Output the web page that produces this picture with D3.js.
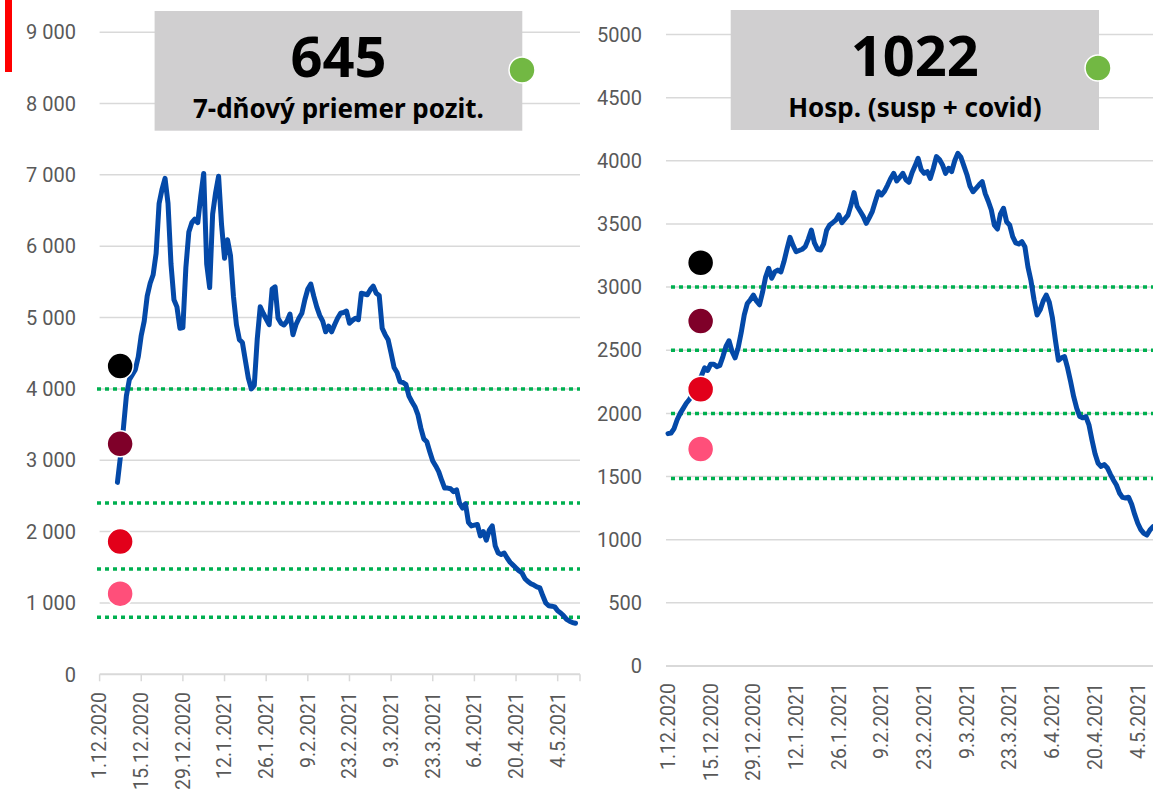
<!DOCTYPE html>
<html>
<head>
<meta charset="utf-8">
<script src="https://cdn.jsdelivr.net/npm/d3@7"></script>
<style>
  body { margin: 0; background: #fff; }
  svg { display: block; font-family: Roboto, "Noto Sans", sans-serif; }
</style>
</head>
<body>
<svg id="chart" width="1153" height="789"></svg>
<script>
// x axis: days counted from 1.12.2020, a label every 14 days
var tickDays = [0, 14, 28, 42, 56, 70, 84, 98, 112, 126, 140, 154];
var tickLabels = ["1.12.2020", "15.12.2020", "29.12.2020", "12.1.2021", "26.1.2021", "9.2.2021",
  "23.2.2021", "9.3.2021", "23.3.2021", "6.4.2021", "20.4.2021", "4.5.2021"];

// left: 7-day average of positive tests, starts on day 6 (7.12.2020)
var posStartDay = 6;
var posAvg = [
  2690, 3050, 3450, 3900, 4130, 4200, 4270, 4450, 4750, 4950,
  5300, 5480, 5600, 5900, 6600, 6800, 6950, 6600, 5750, 5250,
  5150, 4850, 4860, 5700, 6200, 6330, 6380, 6330, 6700, 7020,
  5750, 5420, 6450, 6750, 6980, 6300, 5830, 6090, 5870, 5300,
  4900, 4690, 4650, 4400, 4150, 4000, 4050, 4700, 5150, 5060,
  4980, 4900, 5400, 5430, 4990, 4920, 4896, 4950, 5050, 4760,
  4900, 4990, 5060, 5250, 5400, 5470, 5300, 5150, 5030, 4950,
  4800, 4880, 4800, 4900, 4990, 5060, 5070, 5090, 4920, 4960,
  4990, 4970, 5340, 5330, 5320, 5390, 5440, 5340, 5310, 4850,
  4760, 4690, 4500, 4300, 4230, 4100, 4090, 4060, 3900, 3820,
  3750, 3640, 3450, 3300, 3260, 3120, 2990, 2920, 2840, 2720,
  2610, 2610, 2600, 2560, 2585, 2400, 2330, 2390, 2130, 2080,
  2090, 2100, 1940, 2000, 1880, 2020, 2080, 1800, 1700, 1680,
  1700, 1630, 1570, 1530, 1490, 1450, 1420, 1340, 1300, 1270,
  1250, 1225, 1210, 1100, 1000, 960, 955, 945, 890, 860,
  820, 770, 745, 725, 715
];
var posThresholds = [4000, 2400, 1475, 800];
var posDots = [4320, 3230, 1860, 1130];
var posTicks = [0, 1000, 2000, 3000, 4000, 5000, 6000, 7000, 8000, 9000];

// right: hospitalised (suspected + covid), starts on day 0
var hospStartDay = 0;
var hosp = [
  1840, 1845, 1880, 1950, 2000, 2040, 2080, 2110, 2150, 2200,
  2250, 2300, 2360, 2340, 2390, 2390, 2370, 2380, 2450, 2530,
  2575, 2490, 2440, 2520, 2640, 2780, 2870, 2900, 2937, 2890,
  2860, 2960, 3080, 3149, 3070, 3120, 3135, 3120, 3200, 3300,
  3394, 3330, 3280, 3290, 3300, 3320, 3380, 3452, 3350, 3300,
  3294, 3340, 3450, 3492, 3510, 3530, 3571, 3510, 3540, 3570,
  3650, 3748, 3640, 3600, 3560, 3505, 3550, 3600, 3680, 3755,
  3730, 3760, 3808, 3860, 3901, 3840, 3870, 3901, 3850, 3830,
  3906, 3960, 4020, 3930, 3901, 3914, 3861, 3941, 4033, 4010,
  3967, 3901, 3941, 3914, 4000, 4059, 4030, 3960, 3890, 3800,
  3755, 3782, 3810, 3835, 3740, 3680, 3610, 3490, 3460, 3580,
  3624, 3518, 3492, 3400, 3350, 3341, 3360, 3320, 3160, 3050,
  2900, 2779, 2820, 2890, 2937, 2880, 2760, 2580, 2420, 2440,
  2449, 2360, 2250, 2132, 2040, 1975, 1965, 1974, 1910, 1790,
  1680, 1605, 1580, 1595, 1570, 1520, 1473, 1433, 1370, 1335,
  1330, 1336, 1280, 1200, 1130, 1080, 1050, 1037, 1077, 1103
];
var hospThresholds = [3000, 2500, 2000, 1485];
var hospDots = [3193, 2731, 2191, 1718];
var hospTicks = [0, 500, 1000, 1500, 2000, 2500, 3000, 3500, 4000, 4500, 5000];

var dotColors = ["#000000", "#7f0029", "#e2001a", "#ff4f7a"];

var skFormat = d3.formatLocale({ decimal: ",", thousands: "\u00a0", grouping: [3], currency: ["", ""] }).format(",");

var svg = d3.select("#chart");

// red marker top left
svg.append("rect").attr("x", 5).attr("y", 0).attr("width", 7).attr("height", 72).attr("fill", "#ff0000");

function drawPanel(p) {
  var g = svg.append("g");

  var x = d3.scaleLinear().domain([0, p.dayMax]).range([p.x0, p.x1]);
  var y = d3.scaleLinear().domain([0, p.yMax]).range([p.y0, p.y1]);

  // gridlines
  g.append("g").selectAll("line")
    .data(p.yTicks.filter(function(d) { return d > 0; }))
    .enter().append("line")
    .attr("x1", p.gridX0).attr("x2", p.x1)
    .attr("y1", function(d) { return y(d); })
    .attr("y2", function(d) { return y(d); })
    .attr("stroke", "#d9d9d9").attr("stroke-width", 1.5);

  // y labels
  g.append("g").selectAll("text")
    .data(p.yTicks)
    .enter().append("text")
    .attr("x", p.labelX)
    .attr("y", function(d) { return y(d); })
    .attr("dy", "0.36em")
    .attr("text-anchor", "end")
    .attr("font-size", 20)
    .attr("fill", "#595959")
    .text(p.fmt);

  // x axis line + ticks
  g.append("line")
    .attr("x1", p.gridX0).attr("x2", p.x1)
    .attr("y1", y(0)).attr("y2", y(0))
    .attr("stroke", "#d9d9d9").attr("stroke-width", 2);

  if (p.tickMarks) {
    g.append("g").selectAll("line")
      .data(tickDays.concat([p.dayMax]))
      .enter().append("line")
      .attr("x1", function(d) { return x(d); })
      .attr("x2", function(d) { return x(d); })
      .attr("y1", y(0)).attr("y2", y(0) + 7)
      .attr("stroke", "#d9d9d9").attr("stroke-width", 1.5);
  }

  g.append("g").selectAll("text")
    .data(tickDays)
    .enter().append("text")
    .attr("transform", function(d) { return "translate(" + x(d) + "," + p.xLabelTop + ") rotate(-90)"; })
    .attr("dy", "0.35em")
    .attr("text-anchor", "end")
    .attr("font-size", 19.5)
    .attr("fill", "#595959")
    .text(function(d, i) { return tickLabels[i]; });

  // green dotted thresholds
  g.append("g").selectAll("line")
    .data(p.thresholds)
    .enter().append("line")
    .attr("x1", p.greenX0).attr("x2", p.x1)
    .attr("y1", function(d) { return y(d); })
    .attr("y2", function(d) { return y(d); })
    .attr("stroke", "#00b050").attr("stroke-width", 3.5)
    .attr("stroke-dasharray", "4,4");

  // series line
  var line = d3.line()
    .x(function(d, i) { return x(p.startDay + i); })
    .y(function(d) { return y(d); });

  g.append("path")
    .datum(p.values)
    .attr("d", line)
    .attr("fill", "none")
    .attr("stroke", "#0449a8")
    .attr("stroke-width", 5)
    .attr("stroke-linejoin", "round")
    .attr("stroke-linecap", "round");

  // level dots
  g.append("g").selectAll("circle")
    .data(p.dots)
    .enter().append("circle")
    .attr("cx", x(p.dotDay))
    .attr("cy", function(d) { return y(d); })
    .attr("r", 13)
    .attr("fill", function(d, i) { return dotColors[i]; })
    .attr("stroke", "#fff").attr("stroke-width", 1.5);

  // title box
  var b = p.box;
  g.append("rect")
    .attr("x", b[0]).attr("y", b[1])
    .attr("width", b[2] - b[0]).attr("height", b[3] - b[1])
    .attr("fill", "#d0cfd0");

  var cx = (b[0] + b[2]) / 2;
  g.append("text")
    .attr("x", cx).attr("y", b[1] + 66)
    .attr("text-anchor", "middle")
    .attr("font-family", "'Noto Sans', sans-serif")
    .attr("font-weight", 700)
    .attr("font-size", 56)
    .attr("fill", "#000")
    .text(p.bigValue);

  g.append("text")
    .attr("x", cx).attr("y", b[1] + 107)
    .attr("text-anchor", "middle")
    .attr("font-family", "'Noto Sans', sans-serif")
    .attr("font-weight", 700)
    .attr("font-size", 26)
    .attr("fill", "#000")
    .text(p.subtitle);

  g.append("circle")
    .attr("cx", p.status[0]).attr("cy", p.status[1])
    .attr("r", 13)
    .attr("fill", "#72b843")
    .attr("stroke", "#fff").attr("stroke-width", 1.5);
}

drawPanel({
  x0: 99.6, x1: 580, dayMax: 161.5,
  y0: 674.3, y1: 32.15, yMax: 9000,
  gridX0: 99.6, greenX0: 97, labelX: 76, xLabelTop: 692,
  yTicks: posTicks, fmt: skFormat, tickMarks: true,
  thresholds: posThresholds, values: posAvg, startDay: posStartDay,
  dots: posDots, dotDay: 6.9,
  box: [154.6, 11, 522.3, 130.7], bigValue: "645", subtitle: "7-dňový priemer pozit.",
  status: [522, 70]
});

drawPanel({
  x0: 668, x1: 1153, dayMax: 159,
  y0: 666, y1: 34.5, yMax: 5000,
  gridX0: 666, greenX0: 671, labelX: 642, xLabelTop: 683,
  yTicks: hospTicks, fmt: d3.format("d"), tickMarks: false,
  thresholds: hospThresholds, values: hosp, startDay: hospStartDay,
  dots: hospDots, dotDay: 10.7,
  box: [730.7, 10, 1099, 130], bigValue: "1022", subtitle: "Hosp. (susp + covid)",
  status: [1098, 68]
});
</script>
</body>
</html>
